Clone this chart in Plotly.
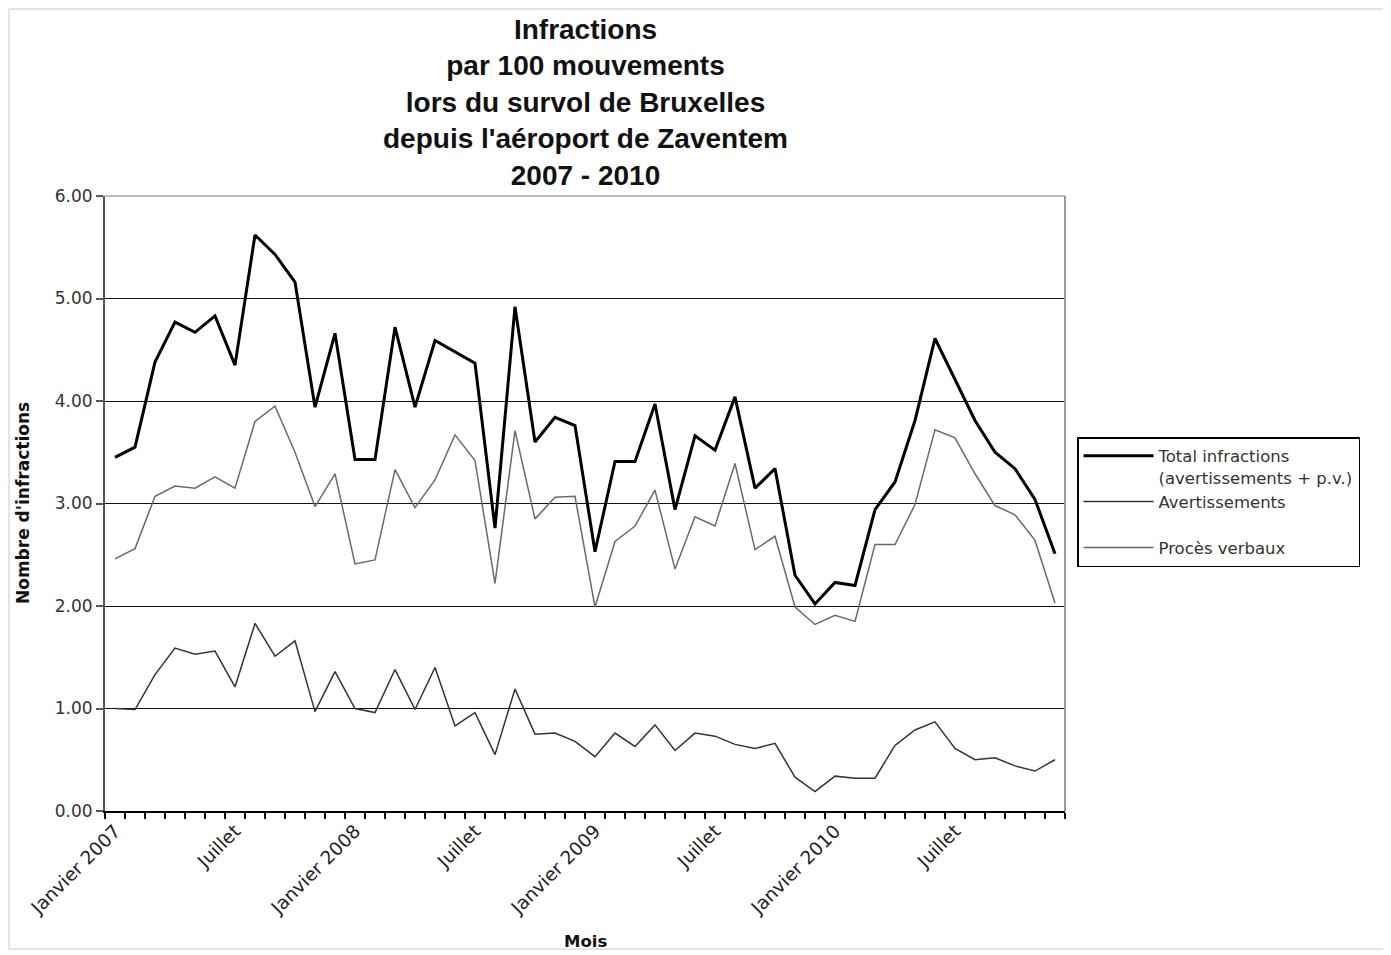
import plotly.graph_objects as go

# ---- data ----
mois_noms = ["Janvier", "Février", "Mars", "Avril", "Mai", "Juin",
             "Juillet", "Août", "Septembre", "Octobre", "Novembre", "Décembre"]
annees = [2007, 2008, 2009, 2010]
categories = [f"{m} {a}" for a in annees for m in mois_noms]

total = [3.45, 3.55, 4.38, 4.77, 4.67, 4.83, 4.35, 5.62, 5.43, 5.16, 3.94, 4.66,
         3.43, 3.43, 4.72, 3.94, 4.59, 4.48, 4.37, 2.76, 4.92, 3.60, 3.84, 3.76,
         2.53, 3.41, 3.41, 3.97, 2.94, 3.66, 3.52, 4.04, 3.15, 3.34, 2.30, 2.02,
         2.23, 2.20, 2.94, 3.21, 3.81, 4.61, 4.21, 3.81, 3.50, 3.34, 3.04, 2.51]

proces_verbaux = [2.46, 2.56, 3.07, 3.17, 3.15, 3.26, 3.15, 3.80, 3.95, 3.50, 2.97, 3.29,
                  2.41, 2.45, 3.33, 2.96, 3.23, 3.67, 3.42, 2.22, 3.71, 2.85, 3.06, 3.07,
                  1.99, 2.63, 2.78, 3.13, 2.36, 2.87, 2.78, 3.39, 2.55, 2.68, 1.99, 1.82,
                  1.91, 1.85, 2.60, 2.60, 2.99, 3.72, 3.64, 3.29, 2.98, 2.89, 2.64, 2.03]

avertissements = [1.00, 0.99, 1.33, 1.59, 1.53, 1.56, 1.21, 1.83, 1.51, 1.66, 0.97, 1.36,
                  1.00, 0.96, 1.38, 0.99, 1.40, 0.83, 0.96, 0.55, 1.19, 0.75, 0.76, 0.68,
                  0.53, 0.76, 0.63, 0.84, 0.59, 0.76, 0.73, 0.65, 0.61, 0.66, 0.33, 0.19,
                  0.34, 0.32, 0.32, 0.64, 0.79, 0.87, 0.61, 0.50, 0.52, 0.44, 0.39, 0.50]

tick_labels = []
for c in categories:
    m, a = c.split(" ")
    if m == "Janvier":
        tick_labels.append(c)
    elif m == "Juillet":
        tick_labels.append("Juillet")
    else:
        tick_labels.append("")

y_ticks = [0, 1, 2, 3, 4, 5, 6]

title_lines = ["Infractions", "par 100 mouvements", "lors du survol de Bruxelles",
               "depuis l'aéroport de Zaventem", "2007 - 2010"]

TXT = "DejaVu Sans"

# plot area in screen pixels (page has an 8px body offset)
PL, PT, PW, PH = 97, 188, 960, 615
FW, FH = 1383, 947


def px(sx):
    """screen x -> paper x"""
    return (sx - 105) / PW


def py(sy):
    """screen y -> paper y"""
    return (811 - sy) / PH


fig = go.Figure()
fig.add_trace(go.Scatter(x=categories, y=total, mode="lines",
                         name="Total infractions<br>(avertissements + p.v.)",
                         line=dict(color="#000000", width=3)))
fig.add_trace(go.Scatter(x=categories, y=avertissements, mode="lines",
                         name="Avertissements<br>&nbsp;",
                         line=dict(color="#333333", width=1.5)))
fig.add_trace(go.Scatter(x=categories, y=proces_verbaux, mode="lines",
                         name="Procès verbaux",
                         line=dict(color="#6a6a6a", width=1.5)))

fig.update_layout(
    width=FW, height=FH,
    margin=dict(l=PL, r=FW - PL - PW, t=PT, b=FH - PT - PH),
    paper_bgcolor="white", plot_bgcolor="white",
    xaxis=dict(
        type="category",
        categoryorder="array", categoryarray=categories,
        tickmode="array", tickvals=categories, ticktext=tick_labels,
        tickson="boundaries",
        ticks="outside", ticklen=6, tickwidth=1.5, tickcolor="#000000",
        tickangle=-45,
        tickfont=dict(family=TXT, size=18.5, color="#222222"),
        showline=True, linecolor="#000000", linewidth=2,
        showgrid=False, zeroline=False,
        range=[-0.5, len(categories) - 0.5],
    ),
    yaxis=dict(
        range=[0, 6],
        tickmode="array", tickvals=y_ticks,
        tickformat=".2f",
        ticks="outside", ticklen=7, tickwidth=1.5, tickcolor="#555555",
        tickfont=dict(family=TXT, size=17, color="#333333"),
        showline=True, linecolor="#555555", linewidth=2,
        showgrid=True, gridcolor="#111111", gridwidth=1,
        zeroline=False,
    ),
    legend=dict(
        x=px(1077), xanchor="left",
        y=py(437), yanchor="top",
        bordercolor="#000000", borderwidth=1.5, bgcolor="white",
        font=dict(family=TXT, size=16.5, color="#333333"),
        itemwidth=70, valign="top", tracegroupgap=0,
    ),
    showlegend=True,
    annotations=[
        dict(text="<b>" + "<br>".join(title_lines) + "</b>",
             xref="paper", yref="paper", x=0.5, y=py(12),
             xanchor="center", yanchor="top", align="center", showarrow=False,
             font=dict(family="Liberation Sans, Arial", size=28, color="#111111")),
        dict(text="<b>Mois</b>", xref="paper", yref="paper",
             x=0.5, y=py(941), xanchor="center", yanchor="middle",
             showarrow=False, font=dict(family=TXT, size=16.5, color="#111111")),
        dict(text="<b>Nombre d'infractions</b>", xref="paper", yref="paper",
             x=px(23), y=py(503), xanchor="center", yanchor="middle",
             textangle=-90, showarrow=False,
             font=dict(family=TXT, size=17, color="#111111")),
    ],
    shapes=[
        # outer chart border
        dict(type="rect", xref="paper", yref="paper",
             x0=px(9), x1=px(1384), y0=py(949), y1=py(9),
             line=dict(color="#c8c8c8", width=1), layer="below"),
        # plot area top and right border
        dict(type="line", xref="paper", yref="paper", x0=0, x1=1, y0=1, y1=1,
             line=dict(color="#bdbdbd", width=2), layer="above"),
        dict(type="line", xref="paper", yref="paper", x0=1, x1=1, y0=0, y1=1,
             line=dict(color="#999999", width=2), layer="above"),
    ],
)

fig.write_html("out.html")
